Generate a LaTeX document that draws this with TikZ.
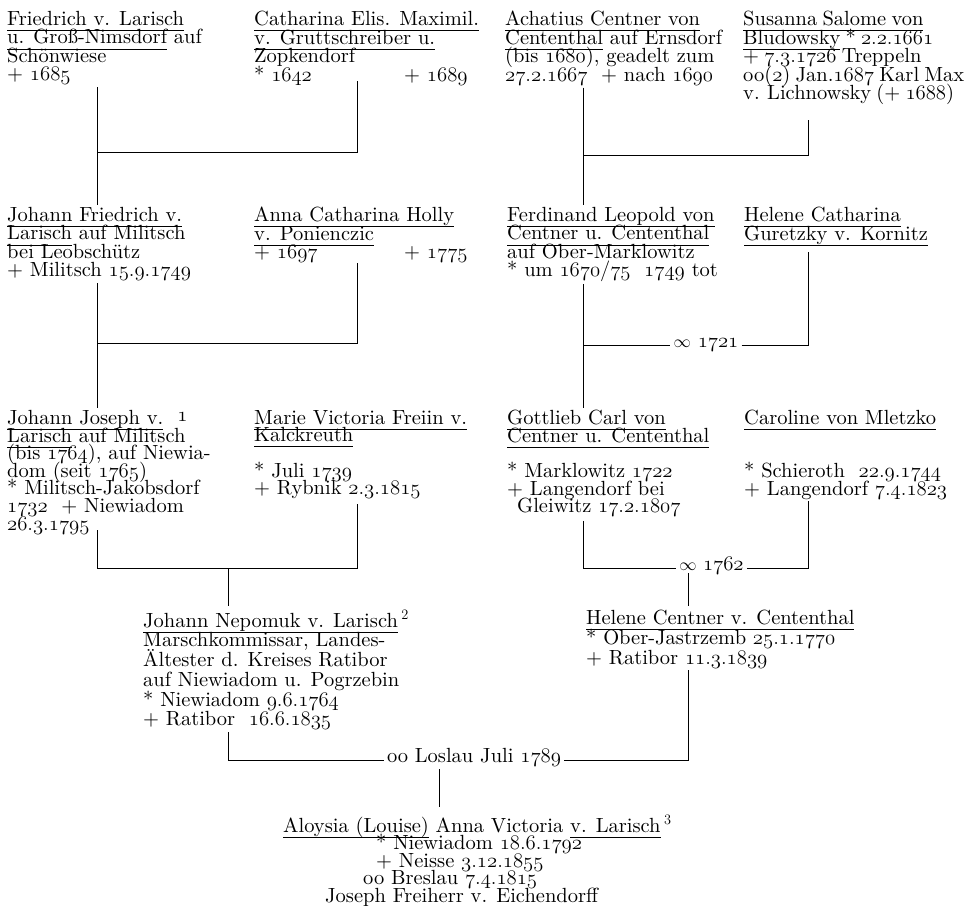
\documentclass[tikz,border=0pt]{standalone}
\usepackage{tikz}
\font\pf="[lmroman10-regular]" at 20.5pt
\newcommand\pfont[1][18.5]{\fontsize{20.5}{#1}\selectfont\pf\lineskiplimit=-\maxdimen}
\newcommand\os[1]{$\mathnormal{#1}$}
\newcommand\oo{{\fontsize{16}{16}\selectfont$\infty$}}
\newsavebox\nmbox
\newcommand\nm[1]{\sbox\nmbox{#1}\rlap{\rule[-5.5pt]{\wd\nmbox}{0.9pt}}\usebox\nmbox}
\newcommand\two[2]{\makebox[150pt][l]{#1}#2}

\begin{document}
\begin{tikzpicture}[x=1pt,y=-1pt,
  person/.style={anchor=north west,inner sep=0pt,align=left,font=\pfont},
  wed/.style={anchor=mid,inner sep=3pt,font=\pfont}]
\useasboundingbox (0,0) rectangle (964,908);

% first generation
\node[person] (friedrich) at (7,11) {\nm{Friedrich v. Larisch}\\ \nm{u. Groß-Nimsdorf} auf\\ Schönwiese\\ + \os{1685}};
\node[person] (catharina) at (254,11) {\nm{Catharina Elis. Maximil.}\\ \nm{v. Gruttschreiber u.}\\ Zopkendorf\\ \two{* \os{1642}}{+ \os{1689}}};
\node[person] (achatius) at (505,11) {\nm{Achatius Centner von}\\ \nm{Cententhal} auf Ernsdorf\\ (bis \os{1680}), geadelt zum\\ \os{27.2.1667}~ + nach \os{1690}};
\node[person,font={\pfont\spaceskip=5.2pt}] (susanna) at (743,11) {\nm{Susanna Salome von}\\ \nm{Bludowsky} * \os{2.2.1661}\\ + \os{7.3.1726} Treppeln\\ oo(\os{2}) Jan.\os{1687} Karl Max\\ v. Lichnowsky (+ \os{1688})};

% second generation
\node[person] (johannf) at (7,207) {\nm{Johann Friedrich v.}\\ \nm{Larisch} auf Militsch\\ bei Leobschütz\\ + Militsch \os{15.9.1749}};
\node[person] (anna) at (254,207) {\nm{Anna Catharina Holly}\\ \nm{v. Ponienczic}\\ \two{+ \os{1697}}{+ \os{1775}}};
\node[person] (ferdinand) at (507,207) {\nm{Ferdinand Leopold von}\\ \nm{Centner u. Cententhal}\\ auf Ober-Marklowitz\\ * um \os{1670/75}~ \os{1749} tot};
\node[person] (helene) at (744,207) {\nm{Helene Catharina}\\ \nm{Guretzky v. Kornitz}};

% third generation
\node[person,font={\pfont[17.6]}] (johannj) at (7,410) {\nm{Johann Joseph v.}\hspace{14pt}\raisebox{3pt}{\os{1}}\\ \nm{Larisch} auf Militsch\\ (bis \os{1764}), auf Niewia-\\ dom (seit \os{1765})\\ * Militsch-Jakobsdorf\\ \os{1732}~ + Niewiadom\\ \os{26.3.1795}};
\node[person,font={\pfont[17.6]}] (marie) at (254,410) {\nm{Marie Victoria Freiin v.}\\ \nm{Kalckreuth}\\[17.6pt] * Juli \os{1739}\\ + Rybnik \os{2.3.1815}};
\node[person,font={\pfont[17.6]}] (gottlieb) at (507,410) {\nm{Gottlieb Carl von}\\ \nm{Centner u. Cententhal}\\[17.6pt] * Marklowitz \os{1722}\\ + Langendorf bei\\ \hspace*{10pt}Gleiwitz \os{17.2.1807}};
\node[person,font={\pfont[17.6]}] (caroline) at (744,410) {\nm{Caroline von Mletzko}\\[35.2pt] * Schieroth~ \os{22.9.1744}\\ + Langendorf \os{7.4.1823}};

% parents
\node[person,font={\pfont[19.7]}] (nepomuk) at (143,610) {\nm{Johann Nepomuk v. Larisch}\,\textsuperscript{2}\\ Marschkommissar, Landes-\\ Ältester d. Kreises Ratibor\\ auf Niewiadom u. Pogrzebin\\ * Niewiadom \os{9.6.1764}\\ + Ratibor~ \os{16.6.1835}};
\node[person,font={\pfont[19.7]}] (heleneC) at (586,610) {\nm{Helene Centner v. Cententhal}\\ * Ober-Jastrzemb \os{25.1.1770}\\ + Ratibor \os{11.3.1839}};

% Eichendorff's wife
\node[person,font={\pfont[17.5]}] (aloysia) at (283,815) {\nm{Aloysia (Louise)} Anna Victoria \nm{v. Larisch}\,\textsuperscript{3}\\ \hspace*{93pt}* Niewiadom \os{18.6.1792}\\ \hspace*{93pt}+ Neisse \os{3.12.1855}\\ \hspace*{80pt}oo Breslau \os{7.4.1815}\\ \hspace*{42pt}Joseph Freiherr v. Eichendorff};

% marriages
\coordinate (m1) at (97,152);  \coordinate (m1w) at (357,152);
\coordinate (m2) at (583,155); \coordinate (m2w) at (808,155);
\coordinate (m3) at (97,343);  \coordinate (m3w) at (357,343);
\coordinate (m4) at (583,345); \coordinate (m4w) at (808,345);
\coordinate (m5) at (97,568);  \coordinate (m5w) at (357,568);
\coordinate (m5c) at (228,568);
\coordinate (m6) at (583,568); \coordinate (m6w) at (808,568);
\coordinate (m7) at (228,760); \coordinate (m7w) at (688,760);
\coordinate (k7) at (439,760);

\node[wed] (w21) at (706,345) {\oo\ \os{1721}};
\node[wed] (w62) at (688,568) {\oo};
\node[anchor=base west,inner sep=3pt,font=\pfont] (d62) at (w62.base east) {\os{1762}};
\node[wed] (w89) at (474,760) {oo Loslau Juli \os{1789}};

\begin{scope}[line width=1pt,black]
\draw ([yshift=-2pt]friedrich.south -| m1) -- (m1) -- (m1w) -- ([yshift=4pt]catharina.south -| m1w);
\draw (m1) -- ([yshift=2pt]johannf.north -| m1);

\draw ([yshift=-2pt]achatius.south -| m2) -- (m2) -- (m2w) -- ([yshift=-15pt]susanna.south -| m2w);
\draw (m2) -- ([yshift=2pt]ferdinand.north -| m2);

\draw ([yshift=-2pt]johannf.south -| m3) -- (m3) -- (m3w) -- (anna.south -| m3w);
\draw (m3) -- ([yshift=2pt]johannj.north -| m3);

\draw ([yshift=-2pt]ferdinand.south -| m4) -- (m4) -- (w21.mid west);
\draw (w21.mid east) -- (m4w) -- ([yshift=-6pt]helene.south -| m4w);
\draw (m4) -- ([yshift=2pt]gottlieb.north -| m4);

\draw ([yshift=4pt]johannj.south -| m5) -- (m5) -- (m5w) -- ([yshift=-5pt]marie.south -| m5w);
\draw (m5c) -- ([yshift=4pt]nepomuk.north -| m5c);

\draw ([yshift=-4pt]gottlieb.south -| m6) -- (m6) -- (w62.mid west);
\draw (d62.mid east) -- (m6w) -- ([yshift=-2pt]caroline.south -| m6w);
\draw (w62.south) -- ([yshift=4pt]heleneC.north -| w62);

\draw ([yshift=-2pt]nepomuk.south -| m7) -- (m7) -- (w89.mid west);
\draw (w89.mid east) -- (m7w) -- ([yshift=-2pt]heleneC.south -| m7w);
\draw (k7 |- w89.south) -- ([yshift=8pt]aloysia.north -| k7);
\end{scope}

\end{tikzpicture}
\end{document}
